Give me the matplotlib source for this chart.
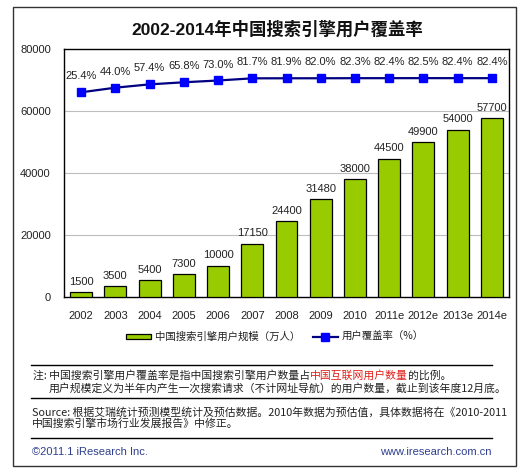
import matplotlib
matplotlib.use("Agg")
import matplotlib.pyplot as plt
from matplotlib.patches import Rectangle
from matplotlib.lines import Line2D

years = ['2002', '2003', '2004', '2005', '2006', '2007', '2008', '2009', '2010',
         '2011e', '2012e', '2013e', '2014e']
users = [1500, 3500, 5400, 7300, 10000, 17150, 24400, 31480, 38000, 44500, 49900, 54000, 57700]
rate = [25.4, 44.0, 57.4, 65.8, 73.0, 81.7, 81.9, 82.0, 82.3, 82.4, 82.5, 82.4, 82.4]
yticks = [0, 20000, 40000, 60000, 80000]

title = '2002-2014年中国搜索引擎用户覆盖率'
bar_label = '中国搜索引擎用户规模（万人）'
line_label = '用户覆盖率（%）'

plt.rcParams['font.family'] = ['Liberation Sans', 'Noto Sans CJK SC']
CJK = ['Noto Sans CJK SC', 'Liberation Sans']
TXT = '#222222'

W, H = 525, 473
fig = plt.figure(figsize=(W / 100, H / 100), dpi=100)
fx = lambda p: p / W
fy = lambda p: 1 - p / H

ax = fig.add_axes([fx(64), fy(297), fx(509) - fx(64), fy(49) - fy(297)])
x = list(range(len(years)))
ax.bar(x, users, width=0.64, color='#99CC00', edgecolor='black', linewidth=0.9, zorder=3,
       label=bar_label)
for xi, v in zip(x, users):
    ax.annotate(f'{v}', (xi, v), xytext=(0, 4), textcoords='offset points',
                ha='center', va='bottom', fontsize=8, color=TXT)
ax.set_xlim(-0.5, len(years) - 0.5)
ax.set_ylim(0, 80000)
ax.set_yticks(yticks)
ax.set_yticklabels([str(t) for t in yticks])
ax.set_xticks(x)
ax.set_xticklabels(years)
ax.tick_params(axis='y', length=0, pad=9.5, labelsize=8, labelcolor=TXT)
ax.tick_params(axis='x', length=0, pad=10, labelsize=8, labelcolor=TXT)
for yv in yticks[1:-1]:
    ax.axhline(yv, color='#BDBDBD', linewidth=0.8, zorder=1)
for s in ax.spines.values():
    s.set_color('black')
    s.set_linewidth(1.0)

ax2 = ax.twinx()
ax2.plot(x, rate, color='#000080', linewidth=1.6, marker='s', markersize=5.2,
         markerfacecolor='#0000FF', markeredgecolor='#0000FF', zorder=4, label=line_label)
ax2.set_ylim(-800, 200)
ax2.set_yticks([])
for s in ax2.spines.values():
    s.set_visible(False)
for xi, r in zip(x, rate):
    ax2.annotate(f'{r:.1f}%', (xi, r), xytext=(0, 11.5), textcoords='offset points',
                 ha='center', va='center', fontsize=8, color=TXT)

# title
fig.text(fx(277), fy(29), title, ha='center', va='center', fontsize=12.5,
         fontweight='bold', color='#111111')

# legend
h1, l1 = ax.get_legend_handles_labels()
h2, l2 = ax2.get_legend_handles_labels()
leg = fig.legend(h1 + h2, l1 + l2, loc='center', bbox_to_anchor=(fx(275), fy(337)),
                 ncol=2, frameon=False, prop={'family': CJK, 'size': 7.5},
                 handlelength=2.4, handleheight=0.45, handletextpad=0.35,
                 columnspacing=1.2)
for t in leg.get_texts():
    t.set_color(TXT)

# separators
for yy in (365, 398, 438):
    fig.add_artist(Line2D([fx(31), fx(492)], [fy(yy), fy(yy)], color='black',
                          linewidth=1.0, transform=fig.transFigure))

# outer frame
fig.add_artist(Rectangle((fx(13), fy(466)), fx(516) - fx(13), fy(7) - fy(466),
                         fill=False, edgecolor='#333333', linewidth=1.0,
                         transform=fig.transFigure))

# notes
fs = 7.8
t1 = fig.text(fx(33), fy(375), '注: 中国搜索引擎用户覆盖率是指中国搜索引擎用户数量占',
              ha='left', va='center', fontsize=fs, family=CJK, color=TXT)
t2 = fig.text(0, 0, '中国互联网用户数量', fontsize=fs, family=CJK, color='#E0201B')
t2.set_position((0, 0))
t2.remove()
a2 = fig.add_artist(plt.Annotation('中国互联网用户数量', xy=(1, 0), xycoords=t1,
                                   ha='left', va='bottom', fontsize=fs, family=CJK,
                                   color='#E0201B'))
a3 = fig.add_artist(plt.Annotation('的比例。', xy=(1, 0), xycoords=a2,
                                   ha='left', va='bottom', fontsize=fs, family=CJK,
                                   color=TXT))
fig.text(fx(49), fy(388), '用户规模定义为半年内产生一次搜索请求（不计网址导航）的用户数量，截止到该年度12月底。',
         ha='left', va='center', fontsize=fs, family=CJK, color=TXT)
fig.text(fx(32), fy(412), 'Source: 根据艾瑞统计预测模型统计及预估数据。2010年数据为预估值，具体数据将在《2010-2011',
         ha='left', va='center', fontsize=fs, family=CJK, color=TXT)
fig.text(fx(32), fy(424), '中国搜索引擎市场行业发展报告》中修正。',
         ha='left', va='center', fontsize=fs, family=CJK, color=TXT)

# footer
fig.text(fx(32), fy(452), '©2011.1 iResearch Inc.', ha='left', va='center',
         fontsize=8, color='#2E3F8F')
fig.text(fx(492), fy(452), 'www.iresearch.com.cn', ha='right', va='center',
         fontsize=8, color='#2E3F8F')

fig.savefig('out.png', dpi=100, facecolor='white')
